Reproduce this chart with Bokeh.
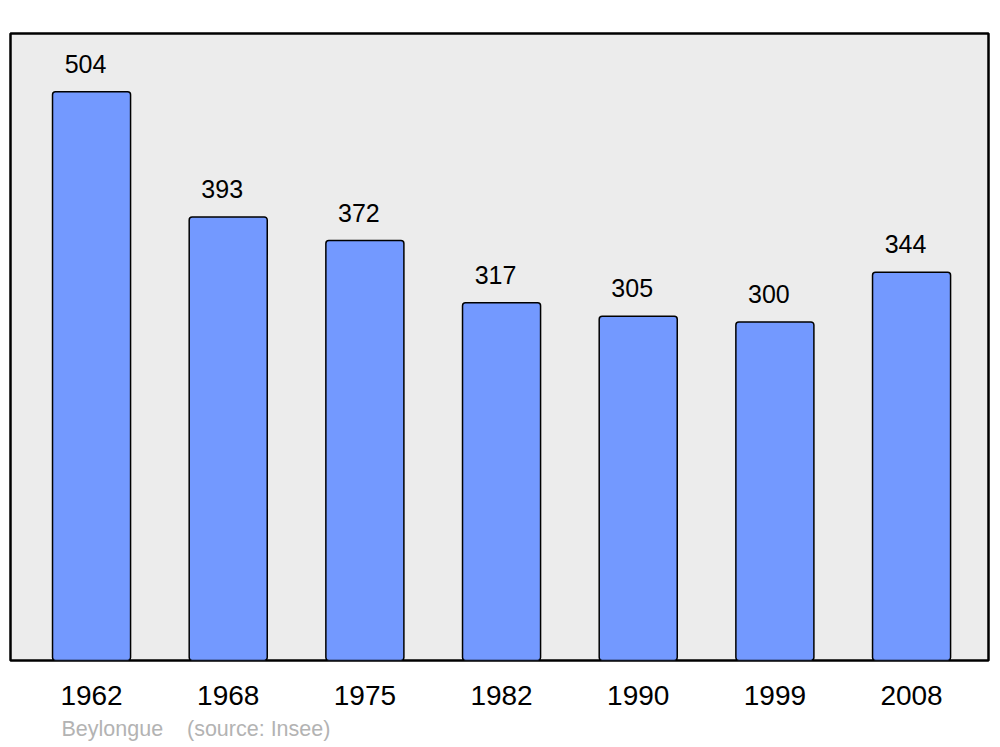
from bokeh.plotting import figure
from bokeh.models import Range1d, FixedTicker, ColumnDataSource, Title
from bokeh.core.properties import value
from bokeh.embed import file_html
from bokeh.resources import INLINE

years = ["1962", "1968", "1975", "1982", "1990", "1999", "2008"]
population = [504, 393, 372, 317, 305, 300, 344]
commune = "Beylongue"
source_note = "(source: Insee)"

idx = list(range(len(years)))
src = ColumnDataSource(dict(x=idx, top=population, label=[str(v) for v in population]))

p = figure(width=992, height=747, output_backend="svg", toolbar_location=None,
           x_range=Range1d(-0.593, len(years) - 1 + 0.563), y_range=Range1d(0, 555.5),
           min_border_left=10, min_border_right=4, min_border_top=33, min_border_bottom=86)
p.background_fill_color = "#ececec"
p.border_fill_color = "white"
p.outline_line_color = "black"
p.outline_line_width = 2.5
p.grid.visible = False
p.yaxis.visible = False

p.vbar(x="x", top="top", bottom=0, width=0.571, source=src, fill_color="#7399ff",
       line_color="black", line_width=1.5, border_radius=3)

p.text(x="x", y="top", text="label", source=src, x_offset=-6, y_offset=-28,
       text_align="center", text_baseline="alphabetic", text_font=value("Liberation Sans"),
       text_font_size="25px", text_color="black")

xa = p.xaxis[0]
xa.ticker = FixedTicker(ticks=idx)
xa.major_label_overrides = {i: y for i, y in zip(idx, years)}
xa.axis_line_color = None
xa.major_tick_line_color = None
xa.minor_tick_line_color = None
xa.major_label_standoff = 19
xa.major_label_text_font = "Liberation Sans"
xa.major_label_text_font_size = "28px"
xa.major_label_text_color = "black"

gap = "\u00a0" * 4
note = Title(text=commune + gap + source_note, align="left", offset=51,
             text_font="Liberation Sans", text_font_size="21.5px", text_color="#b3b3b3",
             text_font_style="normal", standoff=14)
p.add_layout(note, "below")

open("out.html", "w").write(file_html(p, INLINE))
